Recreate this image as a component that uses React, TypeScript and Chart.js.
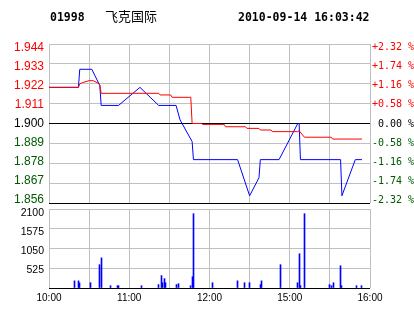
import React, { useEffect, useRef } from 'react';
import { Chart, registerables } from 'chart.js';

Chart.register(...registerables);

// ---------- header ----------
const stockCode = '01998';
const stockName = '飞克国际';
const timestamp = '2010-09-14 16:03:42';

// ---------- axes ----------
const prevClose = 1.9;
const priceTicks = [1.944, 1.933, 1.922, 1.911, 1.9, 1.889, 1.878, 1.867, 1.856];
const percentLabels = ['+2.32 %', '+1.74 %', '+1.16 %', '+0.58 %', ' 0.00 %', '-0.58 %', '-1.16 %', '-1.74 %', '-2.32 %'];
const volumeTicks = [2100, 1575, 1050, 525, 0];
const timeTickLabels = ['10:00', '', '11:00', '', '12:00', '', '15:00', '', '16:00'];

// ---------- price (blue) ----------
const priceTimes = ['10:00', '10:22', '10:23', '10:32', '10:38', '10:39', '10:52', '11:08', '11:22', '11:35', '11:38', '11:47', '11:48', '12:21', '12:30', '14:37', '14:38', '14:52', '15:06', '15:07', '15:08', '15:38', '15:39', '15:49', '15:54'];
const priceValues = [1.92, 1.92, 1.93, 1.93, 1.921, 1.91, 1.91, 1.92, 1.91, 1.91, 1.902, 1.89, 1.88, 1.88, 1.86, 1.87, 1.88, 1.88, 1.9, 1.9, 1.88, 1.88, 1.86, 1.88, 1.88];

// ---------- average price (red) ----------
const avgTimes = ['10:00', '10:22', '10:23', '10:25', '10:30', '10:33', '10:37', '10:38', '10:39', '11:22', '11:23', '11:31', '11:32', '11:46', '11:47', '11:54', '11:55', '12:11', '12:12', '12:27', '12:28', '14:37', '14:38', '14:46', '14:47', '15:06', '15:07', '15:11', '15:31', '15:32', '15:54'];
const avgValues = [1.92, 1.92, 1.9219, 1.9226, 1.9237, 1.9237, 1.9222, 1.9213, 1.9167, 1.9167, 1.9158, 1.9158, 1.9145, 1.9145, 1.9, 1.9, 1.8995, 1.8995, 1.8982, 1.8982, 1.8973, 1.8973, 1.8964, 1.8964, 1.8955, 1.8955, 1.896, 1.8924, 1.8924, 1.8914, 1.8914];

// ---------- volume ----------
const volumeTimes = ['10:19', '10:22', '10:23', '10:31', '10:38', '10:39', '10:46', '10:51', '10:52', '11:09', '11:22', '11:24', '11:25', '11:26', '11:27', '11:35', '11:37', '11:46', '11:47', '11:48', '12:02', '12:21', '12:26', '12:30', '14:38', '14:39', '14:53', '15:06', '15:07', '15:08', '15:11', '15:30', '15:31', '15:33', '15:38', '15:39', '15:50', '15:54'];
const volumeValues = [190, 190, 135, 140, 620, 800, 60, 60, 60, 60, 90, 330, 140, 250, 140, 90, 115, 60, 300, 1975, 140, 190, 140, 140, 90, 190, 620, 140, 910, 60, 1975, 90, 60, 140, 590, 60, 60, 60];

const RED = '#ff0000';
const GREEN = '#005a00';
const GRAY = '#c0c0c0';
const BLACK = '#000000';

// trading-minute index: 10:00-12:30 then 14:30-16:00
function toIndex(t: string): number {
  const [h, m] = t.split(':').map(Number);
  const mins = h * 60 + m;
  if (mins <= 12 * 60 + 30) return mins - 600;
  return mins - (14 * 60 + 30) + 150;
}

function priceColor(v: number): string {
  if (v > prevClose + 1e-6) return RED;
  if (v < prevClose - 1e-6) return GREEN;
  return BLACK;
}

function findPriceIndex(v: number): number {
  return priceTicks.findIndex((p) => Math.abs(p - v) < 1e-6);
}

const headerPlugin = {
  id: 'header',
  afterDraw(chart: any) {
    const ctx = chart.ctx as CanvasRenderingContext2D;
    ctx.save();
    ctx.fillStyle = BLACK;
    ctx.textAlign = 'left';
    ctx.textBaseline = 'alphabetic';
    ctx.font = 'bold 11.5px "DejaVu Sans Mono"';
    ctx.fillText(stockCode, 50, 21);
    ctx.fillText(timestamp, 238, 21);
    ctx.font = '13px "Noto Sans CJK SC"';
    ctx.fillText(stockName, 105, 21);
    ctx.restore();
  },
};

// snap 1px bars onto whole pixel columns so they stay crisp
const snapBarsPlugin = {
  id: 'snapBars',
  afterDatasetsUpdate(chart: any) {
    chart.getSortedVisibleDatasetMetas().forEach((meta: any) => {
      meta.data.forEach((el: any) => {
        el.x = Math.floor(el.x) + 0.5;
      });
    });
  },
};

export default function App() {
  const priceRef = useRef<HTMLCanvasElement>(null);
  const volRef = useRef<HTMLCanvasElement>(null);

  useEffect(() => {
    const pricePoints = priceTimes.map((t, i) => ({ x: toIndex(t), y: priceValues[i] }));
    const avgPoints = avgTimes.map((t, i) => ({ x: toIndex(t), y: avgValues[i] }));
    const volPoints = volumeTimes.map((t, i) => ({ x: toIndex(t), y: volumeValues[i] }));
    const ascPrice = [...priceTicks].sort((a, b) => a - b);

    const timeTicks = (s: any) => {
      s.ticks = timeTickLabels.map((_, i) => ({ value: i * 30 }));
    };

    const priceChart = new Chart(priceRef.current as HTMLCanvasElement, {
      type: 'line',
      data: {
        datasets: [
          { label: 'avg', data: avgPoints, borderColor: RED, borderWidth: 1, pointRadius: 0, tension: 0, xAxisID: 'x', yAxisID: 'y' },
          { label: 'price', data: pricePoints, borderColor: '#0000ff', borderWidth: 1, pointRadius: 0, tension: 0, xAxisID: 'x', yAxisID: 'y' },
        ],
      },
      options: {
        responsive: false,
        animation: false,
        events: [],
        layout: { padding: { top: 44, bottom: 12, left: 0, right: 0 } },
        plugins: { legend: { display: false }, tooltip: { enabled: false } },
        scales: {
          x: {
            type: 'linear', min: 0, max: 240,
            afterBuildTicks: timeTicks,
            ticks: { display: false },
            grid: { color: GRAY, drawTicks: false },
            border: { display: false },
            afterFit: (s: any) => { s.height = 0; s.paddingLeft = 0; s.paddingRight = 0; },
          },
          y: {
            type: 'linear', position: 'left', min: 1.856, max: 1.944,
            afterBuildTicks: (s: any) => { s.ticks = ascPrice.map((v) => ({ value: v })); },
            ticks: { display: false },
            grid: {
              color: (ctx: any) => {
                const v = ctx.tick ? ctx.tick.value : 0;
                return Math.abs(v - prevClose) < 1e-6 || Math.abs(v - 1.856) < 1e-6 ? BLACK : GRAY;
              },
              drawTicks: false,
            },
            border: { display: false },
            afterFit: (s: any) => { s.width = 0; s.paddingTop = 0; s.paddingBottom = 0; },
          },
          yL: {
            type: 'linear', position: 'left', min: 1.8543, max: 1.9462,
            afterBuildTicks: (s: any) => { s.ticks = ascPrice.map((v) => ({ value: v })); },
            ticks: {
              autoSkip: false,
              padding: 5,
              font: { family: '"Liberation Sans", Arial, sans-serif', size: 12 },
              color: (ctx: any) => priceColor(ctx.tick ? ctx.tick.value : prevClose),
              callback: (v: any) => Number(v).toFixed(3),
            },
            grid: { display: false, drawTicks: false },
            border: { display: false },
            afterFit: (s: any) => { s.width = 49; s.paddingTop = 0; s.paddingBottom = 0; },
          },
          yR: {
            type: 'linear', position: 'right', min: 1.8543, max: 1.9462,
            afterBuildTicks: (s: any) => { s.ticks = ascPrice.map((v) => ({ value: v })); },
            ticks: {
              autoSkip: false,
              padding: 2,
              font: { family: '"DejaVu Sans Mono", monospace', size: 10 },
              color: (ctx: any) => priceColor(ctx.tick ? ctx.tick.value : prevClose),
              callback: (v: any) => percentLabels[findPriceIndex(Number(v))],
            },
            grid: { display: false, drawTicks: false },
            border: { display: false },
            afterFit: (s: any) => { s.width = 44; s.paddingTop = 0; s.paddingBottom = 0; },
          },
        },
      } as any,
      plugins: [headerPlugin],
    });

    const volChart = new Chart(volRef.current as HTMLCanvasElement, {
      type: 'bar',
      data: {
        datasets: [
          { label: 'volume', data: volPoints as any, backgroundColor: '#0000ff', borderWidth: 0, barThickness: 1, grouped: false, xAxisID: 'x', yAxisID: 'y' },
        ],
      },
      options: {
        responsive: false,
        animation: false,
        events: [],
        layout: { padding: { top: 14, bottom: 0, left: 0, right: 44 } },
        plugins: { legend: { display: false }, tooltip: { enabled: false } },
        scales: {
          x: {
            type: 'linear', min: 0, max: 240, offset: false,
            afterBuildTicks: timeTicks,
            ticks: {
              autoSkip: false, maxRotation: 0, minRotation: 0, padding: 4,
              font: { family: '"Liberation Sans", Arial, sans-serif', size: 10 },
              color: BLACK,
              callback: (v: any) => timeTickLabels[Math.round(Number(v) / 30)] ?? '',
            },
            grid: { color: GRAY, drawTicks: false, offset: false },
            border: { display: false },
            afterFit: (s: any) => { s.height = 26; s.paddingLeft = 0; s.paddingRight = 0; },
          },
          y: {
            type: 'linear', position: 'left', min: 0, max: 2100,
            afterBuildTicks: (s: any) => { s.ticks = [...volumeTicks].sort((a, b) => a - b).map((v) => ({ value: v })); },
            ticks: { display: false },
            grid: { color: (ctx: any) => (ctx.tick && ctx.tick.value === 0 ? BLACK : GRAY), drawTicks: false },
            border: { display: false },
            afterFit: (s: any) => { s.width = 0; s.paddingTop = 0; s.paddingBottom = 0; },
          },
          yL: {
            type: 'linear', position: 'left', min: 33, max: 2224,
            afterBuildTicks: (s: any) => { s.ticks = volumeTicks.filter((v) => v > 0).sort((a, b) => a - b).map((v) => ({ value: v })); },
            ticks: {
              autoSkip: false, padding: 5,
              font: { family: '"Liberation Sans", Arial, sans-serif', size: 10.5 },
              color: BLACK,
              callback: (v: any) => String(v),
            },
            grid: { display: false, drawTicks: false },
            border: { display: false },
            afterFit: (s: any) => { s.width = 49; s.paddingTop = 0; s.paddingBottom = 0; },
          },
        },
      } as any,
      plugins: [snapBarsPlugin],
    });

    return () => {
      priceChart.destroy();
      volChart.destroy();
    };
  }, []);

  return (
    <div style={{ position: 'fixed', left: 0, top: 0, width: 414, height: 314, background: '#ffffff', overflow: 'hidden' }}>
      <canvas ref={priceRef} width={414} height={215} style={{ position: 'absolute', left: 0, top: 0, width: 414, height: 215 }} />
      <canvas ref={volRef} width={414} height={119} style={{ position: 'absolute', left: 0, top: 195, width: 414, height: 119 }} />
    </div>
  );
}
